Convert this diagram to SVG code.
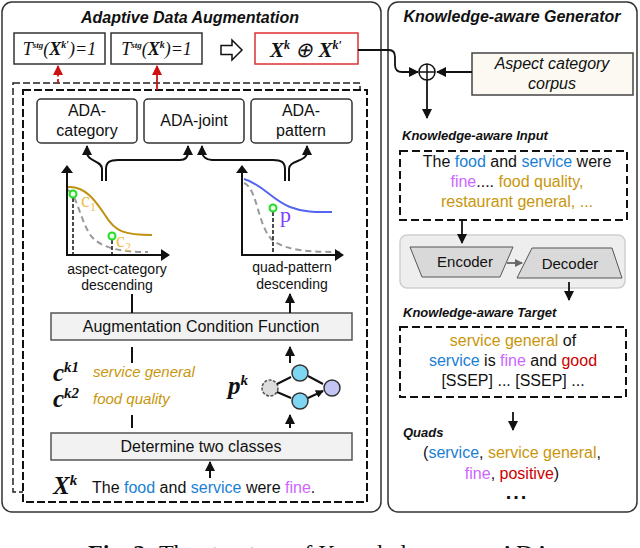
<svg xmlns="http://www.w3.org/2000/svg" width="640" height="548" viewBox="0 0 640 548">
<defs>
<style>
.title{font-family:"Liberation Sans",Arial,sans-serif;font-style:italic;font-weight:bold;font-size:16px;fill:#111}
.sub{font-family:"Liberation Sans",Arial,sans-serif;font-style:italic;font-weight:bold;font-size:13px;fill:#111}
.t16{font-family:"Liberation Sans",Arial,sans-serif;font-size:16px;fill:#111}
.t15{font-family:"Liberation Sans",Arial,sans-serif;font-size:15px;fill:#111}
.t14{font-family:"Liberation Sans",Arial,sans-serif;font-size:14px;fill:#111}
.math{font-family:"Liberation Serif","Times New Roman",serif;font-style:italic;font-weight:bold;fill:#111}
.mid{text-anchor:middle}
.blue{fill:#1a7fd4}.gold{fill:#c8960c}.pur{fill:#cc66ff}.red{fill:#cc0000}
.ln{fill:none;stroke:#111;stroke-width:2}
.dbox{fill:#fff;stroke:#111;stroke-width:2;stroke-dasharray:8 4}
.gbox{fill:#f2f2f2;stroke:#555;stroke-width:1.5}
.box{fill:#fff;stroke:#333;stroke-width:1.5}
.panel{fill:#fff;stroke:#333;stroke-width:1.5}
</style>
<marker id="ah" markerUnits="userSpaceOnUse" markerWidth="11" markerHeight="11" refX="9" refY="5" orient="auto"><path d="M0,0L10,5L0,10z" fill="#111"/></marker>
<marker id="ahs" markerUnits="userSpaceOnUse" markerWidth="9" markerHeight="9" refX="7" refY="4" orient="auto"><path d="M0,0L8,4L0,8z" fill="#111"/></marker>
<marker id="ahr" markerUnits="userSpaceOnUse" markerWidth="11" markerHeight="11" refX="9" refY="5" orient="auto"><path d="M0,0L10,5L0,10z" fill="#d01010"/></marker>
<marker id="ahg" markerUnits="userSpaceOnUse" markerWidth="9" markerHeight="9" refX="7" refY="4" orient="auto"><path d="M0,0L8,4L0,8z" fill="#666"/></marker>
</defs>
<rect width="640" height="548" fill="#fff"/>

<!-- panels -->
<g id="panel-ada">
<rect class="panel" x="2" y="2" width="379" height="510" rx="10"/>
<text class="title mid" x="190" y="23">Adaptive Data Augmentation</text>
</g>
<g id="panel-gen">
<rect class="panel" x="388" y="2" width="249" height="510" rx="10"/>
<text class="title mid" x="512" y="22">Knowledge-aware Generator</text>
</g>

<!-- stacked dashed frames -->
<g id="stack">
<rect x="13" y="83" width="347" height="409" fill="#fff" stroke="#222" stroke-width="1.5" stroke-dasharray="7 3"/>
<rect x="23" y="90" width="344" height="412" fill="#fff" stroke="#111" stroke-width="2" stroke-dasharray="8 3"/>
</g>

<!-- top row -->
<g id="cond1">
<rect class="box" x="14" y="33" width="91" height="31"/>
<text class="math mid" x="59.5" y="55" font-size="18"><tspan font-weight="normal">T</tspan><tspan dy="-7" font-size="9">stg</tspan><tspan dy="7" font-weight="normal">(</tspan>X<tspan dy="-7" font-size="10">k′</tspan><tspan dy="7" font-weight="normal">)=1</tspan></text>
</g>
<g id="cond2">
<rect class="box" x="111" y="33" width="91" height="31"/>
<text class="math mid" x="156.5" y="55" font-size="18"><tspan font-weight="normal">T</tspan><tspan dy="-7" font-size="9">stg</tspan><tspan dy="7" font-weight="normal">(</tspan>X<tspan dy="-7" font-size="10">k</tspan><tspan dy="7" font-weight="normal">)=1</tspan></text>
</g>
<g id="implies">
<path d="M221,45.5H232V40L242,50L232,60V54.5H221Z" fill="#fff" stroke="#111" stroke-width="1.5"/>
</g>
<g id="merged">
<rect x="255" y="33" width="103" height="31" fill="#fff" stroke="#e03030" stroke-width="1.5"/>
<text class="math mid" x="306" y="57" font-size="21">X<tspan dy="-8" font-size="12">k</tspan><tspan dy="8" font-weight="normal"> ⊕ </tspan>X<tspan dy="-8" font-size="12">k′</tspan></text>
</g>

<!-- ADA boxes -->
<g id="ada-category">
<rect class="box" x="37" y="99" width="100" height="44" rx="4"/>
<text class="t16 mid" x="87" y="116">ADA-</text>
<text class="t16 mid" x="87" y="136">category</text>
</g>
<g id="ada-joint">
<rect class="box" x="144" y="99" width="100" height="44" rx="4"/>
<text class="t16 mid" x="194" y="126">ADA-joint</text>
</g>
<g id="ada-pattern">
<rect class="box" x="251" y="99" width="101" height="44" rx="4"/>
<text class="t16 mid" x="301" y="116">ADA-</text>
<text class="t16 mid" x="301" y="136">pattern</text>
</g>

<!-- left chart -->
<g id="chart-category">
<path d="M152,235C125,235 115,232 105,215C95,200 85,186 68,187" fill="none" stroke="#c09010" stroke-width="2"/>
<path d="M68,190C78,195 82,230 95,240C105,248 120,252 148,252" fill="none" stroke="#999" stroke-width="2" stroke-dasharray="6 4"/>
<path d="M73,198V255M112,240V255" fill="none" stroke="#111" stroke-width="1.5" stroke-dasharray="4 2"/>
<path d="M67,256V172M66,255H162" class="ln" stroke-width="2.5"/>
<path d="M61,173L67,165L73,173Z M161,249L170,255L161,261Z" fill="#111"/>
<circle cx="73" cy="194" r="3.5" fill="#e8ffe8" stroke="#22dd22" stroke-width="2"/>
<circle cx="112" cy="236" r="3.5" fill="#e8ffe8" stroke="#22dd22" stroke-width="2"/>
<text x="81" y="207" font-family="Liberation Serif,serif" font-size="20" fill="#f0c050">c<tspan font-size="12" dy="4">1</tspan></text>
<text x="116" y="247" font-family="Liberation Serif,serif" font-size="20" fill="#f0c050">c<tspan font-size="12" dy="4">2</tspan></text>
<text class="t14 mid" x="117" y="274">aspect-category</text>
<text class="t14 mid" x="117" y="290">descending</text>
</g>

<!-- right chart -->
<g id="chart-pattern">
<path d="M244,179C262,184 272,200 290,207C305,213 320,212 332,212" fill="none" stroke="#5566ee" stroke-width="2"/>
<path d="M244,183C258,188 258,232 275,242C290,251 310,252 340,252" fill="none" stroke="#999" stroke-width="2" stroke-dasharray="6 4"/>
<path d="M273,212V255" fill="none" stroke="#111" stroke-width="1.5" stroke-dasharray="4 2"/>
<path d="M242,256V172M241,255H336" class="ln" stroke-width="2.5"/>
<path d="M236,173L242,165L248,173Z M335,249L344,255L335,261Z" fill="#111"/>
<circle cx="273" cy="208" r="3.5" fill="#e8ffe8" stroke="#22dd22" stroke-width="2"/>
<text x="280" y="222" font-family="Liberation Serif,serif" font-size="22" fill="#8040ff">p</text>
<text class="t14 mid" x="292" y="272">quad-pattern</text>
<text class="t14 mid" x="292" y="289">descending</text>
</g>

<g id="acf">
<rect class="gbox" x="51" y="313" width="301" height="27"/>
<text class="t16 mid" x="201" y="332">Augmentation Condition Function</text>
</g>

<g id="categories">
<text class="math" x="53" y="381" font-size="25">c<tspan dy="-9" font-size="15">k1</tspan></text>
<text class="math" x="53" y="407" font-size="25">c<tspan dy="-9" font-size="15">k2</tspan></text>
<text x="93" y="377" font-family="Liberation Sans,sans-serif" font-style="italic" font-size="15" class="gold">service general</text>
<text x="93" y="404" font-family="Liberation Sans,sans-serif" font-style="italic" font-size="15" class="gold">food quality</text>
</g>

<g id="pattern">
<text class="math" x="228" y="394" font-size="25">p<tspan dy="-9" font-size="15">k</tspan></text>
<circle cx="270" cy="388" r="8" fill="#ddd" stroke="#555" stroke-width="1.5" stroke-dasharray="3 1.5"/>
<circle cx="300" cy="373" r="8" fill="#7fd6f2" stroke="#333" stroke-width="1.5"/>
<circle cx="300" cy="401" r="8" fill="#7fd6f2" stroke="#333" stroke-width="1.5"/>
<circle cx="332" cy="388" r="8" fill="#c4c4f4" stroke="#333" stroke-width="1.5"/>
<path d="M277,384L291,377M277,392L291,398M308,376L323,384M308,398L323,391" fill="none" stroke="#111" stroke-width="2" marker-end="url(#ahs)"/>
</g>

<g id="determine">
<rect class="gbox" x="51" y="433" width="301" height="27"/>
<text class="t16 mid" x="201" y="452">Determine two classes</text>
</g>

<g id="input-sentence">
<text class="math" x="53" y="494" font-size="25">X<tspan dy="-9" font-size="15">k</tspan></text>
<text class="t16" x="92" y="493">The <tspan class="blue">food</tspan> and <tspan class="blue">service</tspan> were <tspan class="pur">fine</tspan>.</text>
</g>

<!-- right panel nodes -->
<g id="oplus">
<circle cx="427" cy="72" r="8" fill="#fff" stroke="#111" stroke-width="1.5"/>
<path d="M419,72H435M427,64V80" stroke="#111" stroke-width="1.5"/>
</g>
<g id="corpus">
<rect x="472" y="53" width="161" height="42" fill="#fbf9f2" stroke="#444" stroke-width="1.5"/>
<text class="mid" x="552" y="69" font-family="Liberation Sans,sans-serif" font-style="italic" font-size="16" fill="#111">Aspect category</text>
<text class="mid" x="552" y="89" font-family="Liberation Sans,sans-serif" font-style="italic" font-size="16" fill="#111">corpus</text>
</g>
<g id="ka-input">
<text class="sub" x="402" y="140">Knowledge-aware Input</text>
<rect class="dbox" x="400" y="151" width="227" height="69"/>
<text class="t16 mid" x="517" y="167">The <tspan class="blue">food</tspan> and <tspan class="blue">service</tspan> were</text>
<text class="t16 mid" x="517" y="187"><tspan class="pur">fine</tspan>.... <tspan class="gold">food quality,</tspan></text>
<text class="t16 mid gold" x="517" y="207">restaurant general, ...</text>
</g>
<g id="encdec">
<rect x="400" y="235" width="225" height="53" rx="7" fill="#eeeeee" stroke="#cfcfcf" stroke-width="1.5"/>
<g id="encoder">
<path d="M410,247H513L500,277H422Z" fill="#d9d9d9" stroke="#555" stroke-width="1"/>
<text class="t15 mid" x="465" y="267">Encoder</text>
</g>
<g id="decoder">
<path d="M532,248H612L622,278H517Z" fill="#d9d9d9" stroke="#555" stroke-width="1"/>
<text class="t15 mid" x="570" y="269">Decoder</text>
</g>
</g>
<g id="ka-target">
<text class="sub" x="403" y="317">Knowledge-aware Target</text>
<rect class="dbox" x="400" y="327" width="226" height="70"/>
<text class="t16 mid" x="513" y="346"><tspan class="gold">service general</tspan> of</text>
<text class="t16 mid" x="513" y="366"><tspan class="blue">service</tspan> is <tspan class="pur">fine</tspan> and <tspan class="red">good</tspan></text>
<text class="t16 mid" x="513" y="386">[SSEP] ... [SSEP] ...</text>
</g>
<g id="quads">
<text class="sub" x="403" y="437">Quads</text>
<text class="t16 mid" x="512" y="458">(<tspan class="blue">service</tspan>, <tspan class="gold">service general</tspan>,</text>
<text class="t16 mid" x="512" y="479"><tspan class="pur">fine</tspan>, <tspan class="red">positive</tspan>)</text>
<text class="mid" x="517" y="499" font-family="Liberation Sans,sans-serif" font-weight="bold" font-size="20" letter-spacing="2" fill="#111">...</text>
</g>

<!-- connectors -->
<g id="connectors">
<path d="M58,83V66" fill="none" stroke="#d01010" stroke-width="1.8" stroke-dasharray="4 2.5" marker-end="url(#ahr)"/>
<path d="M157,90V66" fill="none" stroke="#d01010" stroke-width="1.8" marker-end="url(#ahr)"/>
<path d="M102,181V169C102,160 87,162 87,152V146" class="ln" marker-end="url(#ah)"/>
<path d="M106,181V169C106,162 110,160 118,160H180C186,160 188,156 188,152V146" class="ln" marker-end="url(#ah)"/>
<path d="M285,181V169C285,162 281,160 273,160H212C206,160 202,156 202,152V146" class="ln" marker-end="url(#ah)"/>
<path d="M289,181V169C289,160 307,162 307,152V146" class="ln" marker-end="url(#ah)"/>
<path d="M132,313V294M290,313V294" class="ln" marker-end="url(#ah)"/>
<path d="M132,363V347M290,363V347" class="ln" marker-end="url(#ah)"/>
<path d="M132,428V415M290,428V415" class="ln" marker-end="url(#ah)"/>
<path d="M210,478V462" class="ln" marker-end="url(#ah)"/>
<path d="M358,50H389Q395,50 395,57V65Q395,72 402,72H418" fill="none" stroke="#111" stroke-width="1.8" marker-end="url(#ah)"/>
<path d="M472,72H437" fill="none" stroke="#111" stroke-width="1.8" marker-end="url(#ah)"/>
<path d="M427,80V118" fill="none" stroke="#111" stroke-width="1.8" marker-end="url(#ah)"/>
<path d="M462,220V243" fill="none" stroke="#111" stroke-width="1.8" marker-end="url(#ah)"/>
<path d="M507,263H522" fill="none" stroke="#666" stroke-width="1.8" marker-end="url(#ahg)"/>
<path d="M569,282V300" fill="none" stroke="#111" stroke-width="1.8" marker-end="url(#ah)"/>
<path d="M513,412V430" fill="none" stroke="#111" stroke-width="1.8" marker-end="url(#ah)"/>
</g>

<g id="caption">
<text x="88" y="561" font-family="Liberation Serif,serif" font-size="24" fill="#111"><tspan font-weight="bold">Fig. 2:</tspan> The structure of Knowledge-aware ADA.</text>
</g>
</svg>
